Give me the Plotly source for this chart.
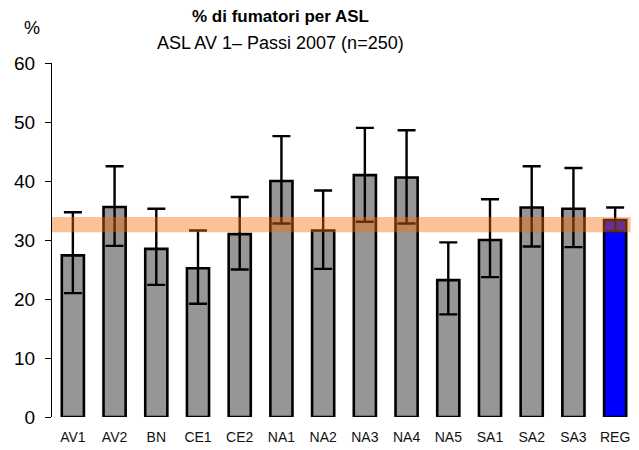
import plotly.graph_objects as go

categories = ["AV1", "AV2", "BN", "CE1", "CE2", "NA1", "NA2", "NA3", "NA4", "NA5", "SA1", "SA2", "SA3", "REG"]
values = [27.4, 35.6, 28.5, 25.2, 31.0, 40.0, 31.6, 41.0, 40.6, 23.2, 30.0, 35.5, 35.3, 33.4]
ci_upper = [34.7, 42.5, 35.3, 31.6, 37.3, 47.6, 38.4, 49.0, 48.6, 29.6, 36.9, 42.5, 42.2, 35.5]
ci_lower = [21.0, 29.0, 22.4, 19.2, 25.0, 32.8, 25.1, 33.1, 32.8, 17.4, 23.7, 28.9, 28.8, 31.5]
band_low, band_high = 31.3, 33.9
y_ticks = [0, 10, 20, 30, 40, 50, 60]

err_plus = [u - v for u, v in zip(ci_upper, values)]
err_minus = [v - l for v, l in zip(values, ci_lower)]
colors = ["#969696"] * (len(categories) - 1) + ["#0000FF"]

fig = go.Figure()
fig.add_trace(go.Bar(
    x=categories, y=values, width=0.53,
    marker=dict(color=colors, line=dict(color="black", width=2.6)),
    error_y=dict(type="data", symmetric=False, array=err_plus, arrayminus=err_minus,
                 color="black", thickness=2.4, width=9),
    showlegend=False,
))

fig.add_shape(type="rect", xref="x", yref="y", x0=-0.5, x1=13.37, y0=band_low, y1=band_high,
              fillcolor="rgba(245,110,10,0.42)", line=dict(width=0), layer="above")

font = "Liberation Sans, Arial, sans-serif"
fig.update_layout(
    width=631, height=442,
    margin=dict(l=44, r=3, t=55, b=33),
    paper_bgcolor="white", plot_bgcolor="white",
    font=dict(family=font, color="black"),
    xaxis=dict(showline=False, ticks="", showgrid=False, zeroline=False,
               tickfont=dict(size=14, color="#111"), range=[-0.5, 13.5],
               ticklabelstandoff=10),
    yaxis=dict(range=[0, 60], tickvals=y_ticks, showline=True, linecolor="black", linewidth=1,
               ticks="outside", ticklen=6, tickcolor="black", showgrid=False, zeroline=False,
               tickfont=dict(size=19), ticklabelstandoff=6),
    annotations=[
        dict(text="<b>% di fumatori per ASL</b>", xref="paper", yref="paper",
             x=0.391, y=1.131, xanchor="center", yanchor="middle", showarrow=False,
             font=dict(size=17), borderpad=0),
        dict(text="ASL AV 1– Passi 2007 (n=250)", xref="paper", yref="paper",
             x=0.391, y=1.0565, xanchor="center", yanchor="middle", showarrow=False,
             font=dict(size=18), borderpad=0),
        dict(text="%", xref="paper", yref="paper", x=-0.034, y=1.099,
             xanchor="center", yanchor="middle", showarrow=False, font=dict(size=18)),
    ],
)

fig.write_html("out.html")
